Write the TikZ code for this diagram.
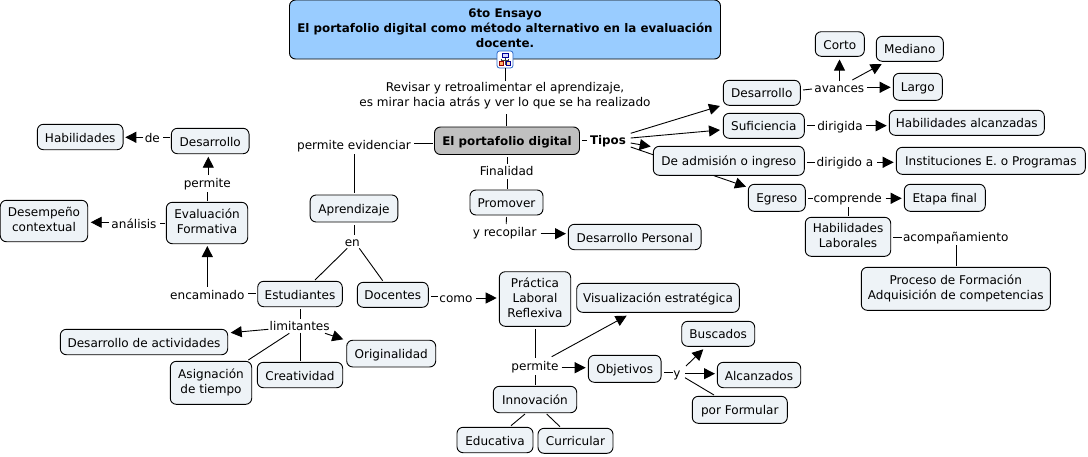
\documentclass[tikz,border=0pt]{standalone}
\usepackage{fontspec}
\setmainfont{DejaVu Sans}
\usetikzlibrary{arrows.meta,backgrounds}
\definecolor{cfill}{HTML}{EEF3F7}
\definecolor{tfill}{HTML}{99CCFF}
\definecolor{gfill}{HTML}{C0C0C0}
\tikzset{
  x=1pt,y=-1pt,
  every node/.style={font=\fontsize{12.05}{14.7}\selectfont,align=center,inner sep=0pt,text=black,
    execute at begin node={\rule{0pt}{13pt}},execute at end node={\rule[-3pt]{0pt}{3pt}}},
  boldtext/.style={font=\fontsize{11.88}{14.7}\selectfont\bfseries},
  lower/.style={execute at begin node={\rule{0pt}{15pt}}},
  concept/.style={draw=black,line width=0.9pt,rounded corners=6pt,fill=cfill},
  linklabel/.style={},
  conn/.style={draw=black,line width=0.9pt},
  arr/.style={conn,-{Triangle[length=11pt,width=11pt]}},
}
\newcommand{\cnode}[7][]{\node[concept,minimum width=#5pt,minimum height=#6pt,#1] (#2) at (#3,#4) {#7};}
\begin{document}
\begin{tikzpicture}
\useasboundingbox (0,0) rectangle (1088,456);
% concepts
\cnode[fill=tfill,boldtext,execute at begin node={\rule{0pt}{12pt}}]{title}{505}{29.5}{431}{59}{6to Ensayo\\El portafolio digital como método alternativo en la evaluación\\docente.}
\cnode[fill=gfill,boldtext]{port}{507}{140.75}{145}{27.5}{El portafolio digital}
\cnode{desR}{761.8}{92.8}{77}{25}{Desarrollo}
\cnode{suf}{763.8}{125.8}{81}{25}{Suficiencia}
\cnode{adm}{728.8}{160.8}{151}{29}{De admisión o ingreso}
\cnode{egr}{776.8}{197.8}{57}{27}{Egreso}
\cnode{corto}{839.8}{44}{49}{24.6}{Corto}
\cnode{med}{909.8}{48.8}{67}{25}{Mediano}
\cnode{largo}{917.8}{86.8}{49}{27}{Largo}
\cnode{halc}{966.8}{122.8}{155}{25}{Habilidades alcanzadas}
\cnode{inst}{990.8}{160.8}{189}{27}{Instituciones E. o Programas}
\cnode{etapa}{944.8}{197.8}{81}{27}{Etapa final}
\cnode[lower]{hlab}{848}{236.8}{85.4}{39}{Habilidades\\Laborales}
\cnode[lower]{proc}{955.8}{288.8}{189}{43}{Proceso de Formación\\Adquisición de competencias}
\cnode{dper}{634.7}{237}{132.7}{25.4}{Desarrollo Personal}
\cnode{prom}{506.5}{202.5}{73}{25}{Promover}
\cnode{apr}{354}{208.5}{87.7}{27}{Aprendizaje}
\cnode{hab}{80.2}{137}{85.7}{25.4}{Habilidades}
\cnode{desL}{210.2}{141}{77.7}{25.4}{Desarrollo}
\cnode[lower]{eval}{207}{223}{81.4}{41.4}{Evaluación\\Formativa}
\cnode[lower]{dese}{44}{221}{87.4}{41.4}{Desempeño\\contextual}
\cnode{est}{300}{294}{84.6}{25.4}{Estudiantes}
\cnode{doc}{392.8}{294.8}{71}{25}{Docentes}
\cnode{dact}{144}{342}{167.4}{25.4}{Desarrollo de actividades}
\cnode[lower]{asig}{211}{382.8}{81.4}{43}{Asignación\\de tiempo}
\cnode{crea}{300}{375}{85.4}{25.4}{Creatividad}
\cnode{orig}{391.2}{353.6}{89}{26.7}{Originalidad}
\cnode{prac}{535}{299}{71.4}{54.6}{Práctica\\Laboral\\Reflexiva}
\cnode{vis}{658}{297.8}{162.6}{29}{Visualización estratégica}
\cnode{obj}{624.7}{368.8}{72.7}{27}{Objetivos}
\cnode{bus}{718.2}{333.8}{73}{25}{Buscados}
\cnode{alc}{759}{375}{83.4}{25.4}{Alcanzados}
\cnode{form}{739.8}{409.8}{95}{27}{por Formular}
\cnode{inn}{535}{399.5}{83.4}{26.4}{Innovación}
\cnode{edu}{495}{440}{76}{25.4}{Educativa}
\cnode{cur}{575.5}{440.8}{75}{25}{Curricular}
% linking phrases
\node[linklabel] (rev) at (505,96) {Revisar y retroalimentar el aprendizaje,\\es mirar hacia atrás y ver lo que se ha realizado};
\node[linklabel] (pev) at (354,144) {permite evidenciar};
\node[linklabel] (fin) at (506.7,170.7) {Finalidad};
\node[linklabel] (yrec) at (504.7,231) {y recopilar};
\node[linklabel,boldtext] (tipos) at (608,139) {Tipos};
\node[linklabel] (ava) at (839.3,87) {avances};
\node[linklabel] (dgd) at (840,125) {dirigida};
\node[linklabel] (dga) at (845,161) {dirigido a};
\node[linklabel] (com) at (847.7,197) {comprende};
\node[linklabel] (aco) at (955.7,236) {acompañamiento};
\node[linklabel] (de) at (152.3,137.3) {de};
\node[linklabel] (per1) at (207.3,182) {permite};
\node[linklabel] (ana) at (134,223) {análisis};
\node[linklabel] (enc) at (207.3,294) {encaminado};
\node[linklabel] (en) at (352.3,241) {en};
\node[linklabel] (lim) at (299.7,325) {limitantes};
\node[linklabel] (como) at (456,297) {como};
\node[linklabel] (per2) at (535,365) {permite};
\node[linklabel] (yy) at (677,372) {y};
% cmap icon on the root concept
\node[draw={rgb,255:red,40;green,100;blue,200},line width=0.8pt,rounded corners=2.5pt,fill=white,minimum width=16pt,minimum height=17pt] (icon) at (505,59.5) {};
\begin{scope}[line width=0.5pt]
  \draw[black!75] (505,57) -- (505,59) (501.5,60) -- (508.5,60) (501.5,59) -- (501.5,61) (508.5,59) -- (508.5,61) (505,59) -- (505,65);
  \filldraw[draw=blue!60!black,fill=blue!15] (502,53.5) rectangle (508,57);
  \filldraw[draw=red!60!black,fill=orange!60] (499.5,61) rectangle (503.5,65);
  \filldraw[draw=blue!60!black,fill=orange!30] (506.5,61) rectangle (510.5,65);
\end{scope}
% connectors
\draw[conn] (icon.south) -- ([shift={(0,-15)}]rev.center);
\draw[conn] ([shift={(1.5,18)}]rev.center) -- ([shift={(-0.5,-15)}]port.center);
\draw[conn] ([shift={(-74.3,2.75)}]port.center) -- ([shift={(60,-0.5)}]pev.center);
\draw[conn] ([shift={(0.5,10)}]pev.center) -- ([shift={(0.5,-15.5)}]apr.center);
\draw[conn] ([shift={(0,16.25)}]port.center) -- ([shift={(0.3,-6.7)}]fin.center);
\draw[conn] ([shift={(0.3,8.3)}]fin.center) -- ([shift={(0.5,-13.8)}]prom.center);
\draw[conn] ([shift={(0,14.5)}]prom.center) -- ([shift={(1.5,-7)}]yrec.center);
\draw[arr] ([shift={(36,2.7)}]yrec.center) -- ([shift={(-68.7,-3.3)}]dper.center);
\draw[conn] ([shift={(75,-0.75)}]port.center) -- ([shift={(-21,1)}]tipos.center);
\draw[arr] ([shift={(22.7,-5.7)}]tipos.center) -- ([shift={(-41.8,13.2)}]desR.center);
\draw[arr] ([shift={(22.7,-1)}]tipos.center) -- ([shift={(-43.8,4.2)}]suf.center);
\draw[arr] ([shift={(22.7,4)}]tipos.center) -- ([shift={(-78.1,-14.3)}]adm.center);
\begin{scope}[on background layer]
\draw[arr] ([shift={(22.7,8)}]tipos.center) -- ([shift={(-30.8,-11.1)}]egr.center);
\end{scope}
\draw[conn] ([shift={(41.2,-2.8)}]desR.center) -- ([shift={(-27.3,2)}]ava.center);
\draw[arr] ([shift={(0.2,-6)}]ava.center) -- ([shift={(-0.3,15.5)}]corto.center);
\draw[arr] ([shift={(13,-7)}]ava.center) -- ([shift={(-28.1,15.2)}]med.center);
\draw[arr] ([shift={(28,0.3)}]ava.center) -- ([shift={(-27.1,0.5)}]largo.center);
\draw[conn] ([shift={(43.5,-0.1)}]suf.center) -- ([shift={(-25,0.7)}]dgd.center);
\draw[arr] ([shift={(26,0.7)}]dgd.center) -- ([shift={(-80.1,2.9)}]halc.center);
\draw[conn] ([shift={(78.5,1.2)}]adm.center) -- ([shift={(-30,1)}]dga.center);
\draw[arr] ([shift={(32.3,1.3)}]dga.center) -- ([shift={(-97.1,1.5)}]inst.center);
\draw[conn] ([shift={(31.2,0.2)}]egr.center) -- ([shift={(-34.7,1)}]com.center);
\draw[arr] ([shift={(38,1.3)}]com.center) -- ([shift={(-43.1,0.5)}]etapa.center);
\draw[conn] ([shift={(0.6,10.3)}]com.center) -- ([shift={(0.3,-20.8)}]hlab.center);
\draw[conn] ([shift={(45.3,0.2)}]hlab.center) -- ([shift={(-53.7,1)}]aco.center);
\draw[conn] ([shift={(0.6,9.3)}]aco.center) -- ([shift={(0.5,-22.8)}]proc.center);
\draw[conn] ([shift={(-40.2,-3.5)}]desL.center) -- ([shift={(10.7,0.2)}]de.center);
\draw[arr] ([shift={(-9,0)}]de.center) -- ([shift={(45.1,0.3)}]hab.center);
\draw[conn] ([shift={(0.7,-22)}]eval.center) -- ([shift={(0.4,10)}]per1.center);
\draw[arr] ([shift={(1,-7)}]per1.center) -- ([shift={(-1.9,15.7)}]desL.center);
\draw[conn] ([shift={(-41.7,0)}]eval.center) -- ([shift={(26,0)}]ana.center);
\draw[arr] ([shift={(-25,-0.7)}]ana.center) -- ([shift={(46.7,1.3)}]dese.center);
\draw[conn] ([shift={(-44.3,-0.5)}]est.center) -- ([shift={(40.4,-0.5)}]enc.center);
\draw[arr] ([shift={(0,-7.3)}]enc.center) -- ([shift={(0.3,23)}]eval.center);
\draw[conn] ([shift={(0.3,16.5)}]apr.center) -- ([shift={(2,-6)}]en.center);
\draw[conn] ([shift={(-5,7.3)}]en.center) -- ([shift={(15,-14)}]est.center);
\draw[conn] ([shift={(7,7.3)}]en.center) -- ([shift={(-10.1,-14.1)}]doc.center);
\draw[conn] ([shift={(0.3,15)}]est.center) -- ([shift={(0.6,-6.3)}]lim.center);
\draw[arr] ([shift={(-31.4,4.3)}]lim.center) -- ([shift={(86.7,-9.3)}]dact.center);
\draw[conn] ([shift={(-10.4,8.3)}]lim.center) -- ([shift={(37.3,-22.8)}]asig.center);
\draw[conn] ([shift={(0.8,7.7)}]lim.center) -- ([shift={(0.5,-14)}]crea.center);
\draw[arr] ([shift={(25.3,8.3)}]lim.center) -- ([shift={(-47.9,-14.3)}]orig.center);
\draw[conn] ([shift={(38.2,1.7)}]doc.center) -- ([shift={(-18,-0.5)}]como.center);
\draw[arr] ([shift={(20,1)}]como.center) -- ([shift={(-38.3,-1)}]prac.center);
\draw[conn] ([shift={(0.3,30)}]prac.center) -- ([shift={(0.3,-6.7)}]per2.center);
\draw[arr] ([shift={(16.7,-8.3)}]per2.center) -- ([shift={(-31.3,17.9)}]vis.center);
\draw[arr] ([shift={(26.7,2.7)}]per2.center) -- ([shift={(-39,-1.1)}]obj.center);
\draw[conn] ([shift={(0.3,10)}]per2.center) -- ([shift={(0.3,-14.5)}]inn.center);
\draw[conn] ([shift={(39.6,3.9)}]obj.center) -- ([shift={(-3.7,0.7)}]yy.center);
\draw[arr] ([shift={(9,-6)}]yy.center) -- ([shift={(-14.9,15.5)}]bus.center);
\draw[arr] ([shift={(8,1.7)}]yy.center) -- ([shift={(-44,-1.3)}]alc.center);
\draw[conn] ([shift={(8,5.7)}]yy.center) -- ([shift={(-25.8,-14.8)}]form.center);
\draw[conn] ([shift={(-10,14.5)}]inn.center) -- ([shift={(16,-14.3)}]edu.center);
\draw[conn] ([shift={(11.7,14.5)}]inn.center) -- ([shift={(-15.5,-14.1)}]cur.center);
\end{tikzpicture}
\end{document}
